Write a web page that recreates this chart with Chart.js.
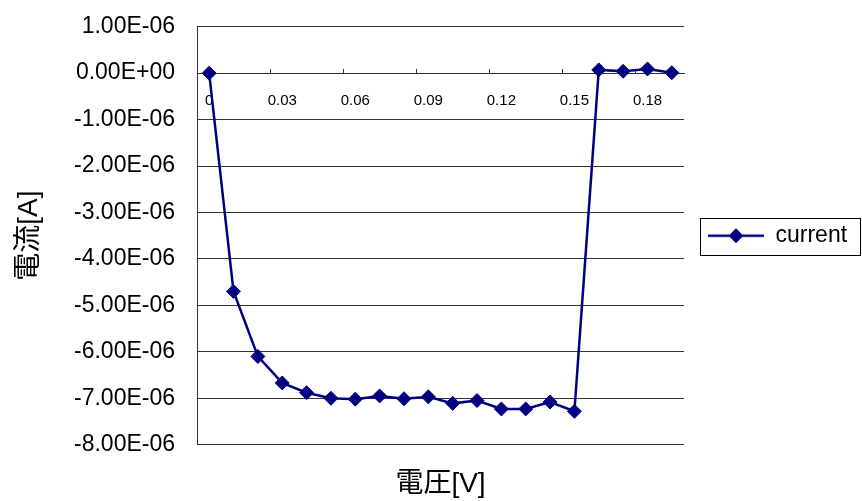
<!DOCTYPE html>
<html>
<head>
<meta charset="utf-8">
<script src="https://cdn.jsdelivr.net/npm/chart.js@4/dist/chart.umd.min.js"></script>
<style>
  html, body { margin: 0; padding: 0; background: #fff; }
  #wrap { width: 862px; height: 501px; position: relative; }
</style>
</head>
<body>
<div id="wrap"><canvas id="c"></canvas></div>
<script>
// Voltage sweep (category axis) and measured current
const voltage = ['0', '0.01', '0.02', '0.03', '0.04', '0.05', '0.06', '0.07', '0.08', '0.09',
                 '0.1', '0.11', '0.12', '0.13', '0.14', '0.15', '0.16', '0.17', '0.18', '0.19'];
const current = [0, -4.70e-6, -6.10e-6, -6.67e-6, -6.88e-6, -7.00e-6, -7.02e-6, -6.95e-6, -7.01e-6, -6.97e-6,
                 -7.11e-6, -7.05e-6, -7.23e-6, -7.23e-6, -7.08e-6, -7.28e-6, 0.07e-6, 0.04e-6, 0.09e-6, 0.01e-6];
const xTickLabels = ['0', '0.03', '0.06', '0.09', '0.12', '0.15', '0.18'];
const yTickLabels = ['1.00E-06', '0.00E+00', '-1.00E-06', '-2.00E-06', '-3.00E-06',
                     '-4.00E-06', '-5.00E-06', '-6.00E-06', '-7.00E-06', '-8.00E-06'];
const seriesName = 'current';
const xTitle = '電圧[V]';
const yTitle = '電流[A]';

const NAVY = '#000080';
const GRID = '#333333';
const FAMILY = "'Liberation Sans', 'Noto Sans CJK JP', sans-serif";
Chart.defaults.font.family = FAMILY;
Chart.defaults.color = '#000';

// Legend swatch: a line with a diamond marker in the middle
const SW_W = 56, SW_H = 20;
const swatch = document.createElement('canvas');
swatch.width = SW_W; swatch.height = SW_H;
{
  const g = swatch.getContext('2d');
  g.strokeStyle = NAVY; g.lineWidth = 2.5;
  g.beginPath(); g.moveTo(0, SW_H / 2); g.lineTo(SW_W, SW_H / 2); g.stroke();
  g.fillStyle = NAVY; g.strokeStyle = NAVY; g.lineWidth = 1;
  Chart.helpers.drawPoint(g, { pointStyle: 'rectRot', radius: 7, borderWidth: 1 }, SW_W / 2, SW_H / 2);
}

// Size the right padding so the plot area ends at x=683
const LEG_FONT = 23, LEG_PAD = 24;
const mc = document.createElement('canvas').getContext('2d');
mc.font = LEG_FONT + 'px ' + FAMILY;
const legendWidth = LEG_PAD + SW_W + LEG_FONT / 2 + mc.measureText(seriesName).width + 11;
const rightPad = Math.max(0, 862 - 683 - legendWidth);

// Thin frame around the legend
const legendFrame = {
  id: 'legendFrame',
  afterDraw(chart) {
    const hb = chart.legend && chart.legend.legendHitBoxes && chart.legend.legendHitBoxes[0];
    if (!hb) return;
    const ctx = chart.ctx;
    ctx.save();
    ctx.strokeStyle = '#000';
    ctx.lineWidth = 1;
    const l = Math.round(hb.left - 8) + 0.5;
    const t = Math.round(hb.top - 6) + 0.5;
    const r = chart.width - 1.5;
    const b = Math.round(hb.top + hb.height + 8) + 0.5;
    ctx.strokeRect(l, t, r - l, b - t);
    ctx.restore();
  }
};

new Chart(document.getElementById('c'), {
  type: 'line',
  data: {
    labels: voltage,
    datasets: [{
      label: seriesName,
      data: current,
      borderColor: NAVY,
      backgroundColor: NAVY,
      borderWidth: 2.5,
      pointStyle: 'rectRot',
      pointRadius: 7,
      pointHoverRadius: 7,
      pointBorderWidth: 1,
      pointBackgroundColor: NAVY,
      pointBorderColor: NAVY,
      tension: 0,
      clip: false
    }]
  },
  options: {
    responsive: true,
    maintainAspectRatio: false,
    animation: false,
    events: [],
    layout: { padding: { left: 0, top: 26.7, right: rightPad, bottom: 0 } },
    plugins: {
      tooltip: { enabled: false },
      legend: {
        display: true,
        position: 'right',
        align: 'center',
        fullSize: false,
        labels: {
          usePointStyle: true,
          pointStyle: swatch,
          pointStyleWidth: SW_W,
          padding: LEG_PAD,
          color: '#000',
          font: { size: LEG_FONT }
        }
      },
      title: {
        display: true,
        text: xTitle,
        position: 'bottom',
        fullSize: false,
        color: '#000',
        font: { size: 28, weight: 'normal' },
        padding: { top: 22.7, bottom: 0 }
      }
    },
    scales: {
      x: {
        type: 'category',
        position: { y: 0 },
        offset: true,
        afterFit: (s) => { s.height = 0; s.paddingTop = 0; s.paddingBottom = 0; },
        grid: {
          offset: true,
          drawOnChartArea: false,
          drawTicks: true,
          tickLength: -5,
          tickColor: (c) => (c.index !== undefined && c.index % 3 === 0 && c.index > 0) ? GRID : 'rgba(0,0,0,0)'
        },
        border: { display: true, color: GRID, width: 1 },
        ticks: {
          autoSkip: false,
          maxRotation: 0,
          minRotation: 0,
          padding: 24,
          color: '#000',
          font: { size: 15 },
          callback: (v, i) => (i % 3 === 0 ? xTickLabels[i / 3] : '')
        }
      },
      y: {
        type: 'linear',
        min: -8e-6,
        max: 1e-6,
        afterFit: (s) => { s.width = 197; s.paddingTop = 0; s.paddingBottom = 0; },
        grid: { color: GRID, lineWidth: 1, drawTicks: false },
        border: { display: true, color: GRID, width: 1 },
        ticks: {
          stepSize: 1e-6,
          padding: 22,
          color: '#000',
          font: { size: 23 },
          callback: (v, i, ticks) => yTickLabels[ticks.length - 1 - i]
        },
        title: {
          display: true,
          text: yTitle,
          color: '#000',
          font: { size: 28 },
          padding: { top: 12, bottom: 0 }
        }
      }
    }
  },
  plugins: [legendFrame]
});
</script>
</body>
</html>
